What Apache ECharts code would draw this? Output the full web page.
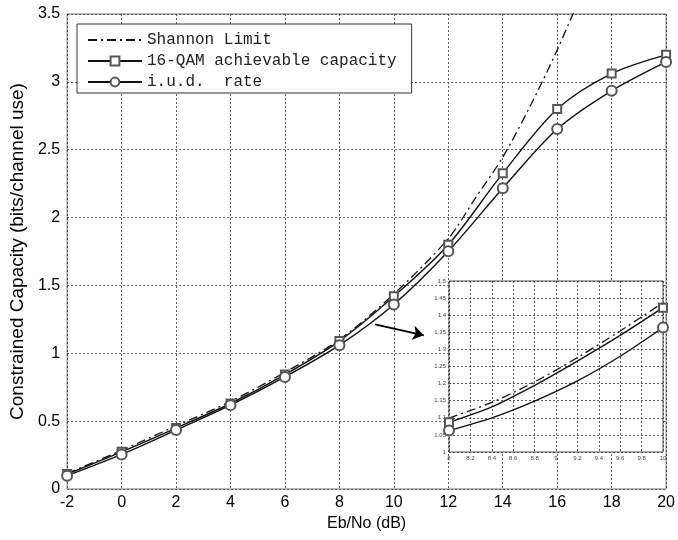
<!DOCTYPE html>
<html>
<head>
<meta charset="utf-8">
<script src="https://cdn.jsdelivr.net/npm/echarts@6/dist/echarts.min.js"></script>
<style>html,body{margin:0;padding:0;background:#fff}#c{width:678px;height:540px}</style>
</head>
<body>
<div id="c"></div>
<script>
// ---- data ----
var xs = [-2, 0, 2, 4, 6, 8, 10, 12, 14, 16, 18, 20];
var qam = [0.11, 0.274, 0.449, 0.63, 0.843, 1.09, 1.42, 1.80, 2.326, 2.80, 3.061, 3.199];
var iud = [0.098, 0.255, 0.434, 0.618, 0.826, 1.06, 1.36, 1.752, 2.216, 2.652, 2.934, 3.147];
var shannonX = [-2, 0, 2, 4, 6, 8, 10, 12, 13, 14, 15, 16, 17];
var shannonY = [0.115, 0.285, 0.465, 0.645, 0.86, 1.10, 1.437, 1.845, 2.145, 2.445, 2.818, 3.235, 3.7];

var insetX = [8, 8.4, 8.8, 9.2, 9.6, 10];
var insetShannon = [1.099, 1.145, 1.205, 1.276, 1.354, 1.437];
var insetQam = [1.087, 1.132, 1.195, 1.266, 1.341, 1.422];
var insetIud = [1.063, 1.10, 1.149, 1.208, 1.28, 1.364];

var arrowFrom = [9.31, 1.213];
var arrowTo = [11.1, 1.132];

var seriesNames = ['Shannon Limit', '16-QAM achievable capacity', 'i.u.d.  rate'];

function zip(a, b) { return a.map(function (v, i) { return [v, b[i]]; }); }
function endMarks(a, b, sym) {
  return a.map(function (v, i) {
    var item = { value: [v, b[i]] };
    item.symbol = (i === 0 || i === a.length - 1) ? sym : 'none';
    return item;
  });
}

var dashDot = [9, 4, 2, 4];
var sans = 'Liberation Sans, Arial, sans-serif';
var fmt = function (v) { return String(+v.toFixed(2)); };
var gridLine = { show: true, lineStyle: { type: [2, 2], color: '#333', width: 0.8 } };

var chart = echarts.init(document.getElementById('c'), null, { renderer: 'canvas' });
chart.setOption({
  animation: false,
  backgroundColor: '#fff',
  legend: {
    data: [
      { name: seriesNames[0], itemStyle: { opacity: 0 } },
      { name: seriesNames[1] },
      { name: seriesNames[2] }
    ],
    orient: 'vertical',
    left: 77, top: 24,
    itemWidth: 54, itemHeight: 11, itemGap: 5, itemTextGap: 10,
    padding: [8, 15, 3, 10],
    borderColor: '#333', borderWidth: 1, backgroundColor: '#fff',
    textStyle: { fontFamily: 'Liberation Mono, Courier New, monospace', fontSize: 16, color: '#222', lineHeight: 16 }
  },
  grid: [
    { left: 66, right: 11, top: 14, bottom: 51, show: true, borderColor: '#777', borderWidth: 1, backgroundColor: 'transparent' },
    { left: 449, right: 15, top: 281, bottom: 88, show: true, borderColor: '#555', borderWidth: 1, backgroundColor: '#fff', z: 3 }
  ],
  xAxis: [
    {
      type: 'value', gridIndex: 0, min: -2, max: 20, interval: 2,
      name: 'Eb/No (dB)', nameLocation: 'middle', nameGap: 27,
      nameTextStyle: { fontFamily: sans, fontSize: 16, color: '#000' },
      axisLine: { show: false }, axisTick: { show: false },
      axisLabel: { fontFamily: sans, fontSize: 16, color: '#000', margin: 6 },
      splitLine: gridLine
    },
    {
      type: 'value', gridIndex: 1, min: 8, max: 10, interval: 0.2, z: 4,
      axisLine: { show: false }, axisTick: { show: false },
      axisLabel: { fontFamily: sans, fontSize: 6, color: '#444', margin: 3, formatter: fmt },
      splitLine: gridLine
    }
  ],
  yAxis: [
    {
      type: 'value', gridIndex: 0, min: 0, max: 3.5, interval: 0.5,
      name: 'Constrained Capacity (bits/channel use)', nameLocation: 'middle', nameGap: 39,
      nameTextStyle: { fontFamily: sans, fontSize: 19, color: '#000' },
      axisLine: { show: false }, axisTick: { show: false },
      axisLabel: { fontFamily: sans, fontSize: 16, color: '#000', margin: 7 },
      splitLine: gridLine
    },
    {
      type: 'value', gridIndex: 1, min: 1, max: 1.5, interval: 0.05, z: 4,
      axisLine: { show: false }, axisTick: { show: false },
      axisLabel: { fontFamily: sans, fontSize: 6, color: '#444', margin: 3, formatter: fmt },
      splitLine: gridLine
    }
  ],
  series: [
    {
      name: seriesNames[0], type: 'line', xAxisIndex: 0, yAxisIndex: 0,
      data: zip(shannonX, shannonY), smooth: 0.3, symbol: 'none',
      lineStyle: { color: '#111', width: 1.3, type: dashDot }, itemStyle: { color: '#111' }
    },
    {
      name: seriesNames[1], type: 'line', xAxisIndex: 0, yAxisIndex: 0,
      data: zip(xs, qam), smooth: 0.3, symbol: 'emptyRect', symbolSize: 8,
      lineStyle: { color: '#111', width: 1.4 }, itemStyle: { color: '#555', borderWidth: 0.9 }
    },
    {
      name: seriesNames[2], type: 'line', xAxisIndex: 0, yAxisIndex: 0,
      data: zip(xs, iud), smooth: 0.3, symbol: 'emptyCircle', symbolSize: 10,
      lineStyle: { color: '#111', width: 1.4 }, itemStyle: { color: '#555', borderWidth: 0.9 }
    },
    {
      type: 'line', xAxisIndex: 1, yAxisIndex: 1, z: 5,
      data: zip(insetX, insetShannon), smooth: 0.3, symbol: 'none',
      lineStyle: { color: '#111', width: 1.3, type: dashDot }
    },
    {
      type: 'line', xAxisIndex: 1, yAxisIndex: 1, z: 5,
      data: endMarks(insetX, insetQam, 'emptyRect'), smooth: 0.3, symbolSize: 8,
      lineStyle: { color: '#111', width: 1.4 }, itemStyle: { color: '#555', borderWidth: 0.9 }
    },
    {
      type: 'line', xAxisIndex: 1, yAxisIndex: 1, z: 5,
      data: endMarks(insetX, insetIud, 'emptyCircle'), smooth: 0.3, symbolSize: 10,
      lineStyle: { color: '#111', width: 1.4 }, itemStyle: { color: '#555', borderWidth: 0.9 }
    },
    {
      type: 'lines', coordinateSystem: 'cartesian2d', xAxisIndex: 0, yAxisIndex: 0, z: 6,
      symbol: ['none', 'arrow'], symbolSize: 11,
      lineStyle: { color: '#000', width: 2, opacity: 1 },
      data: [{ coords: [arrowFrom, arrowTo] }]
    }
  ]
});
</script>
</body>
</html>
